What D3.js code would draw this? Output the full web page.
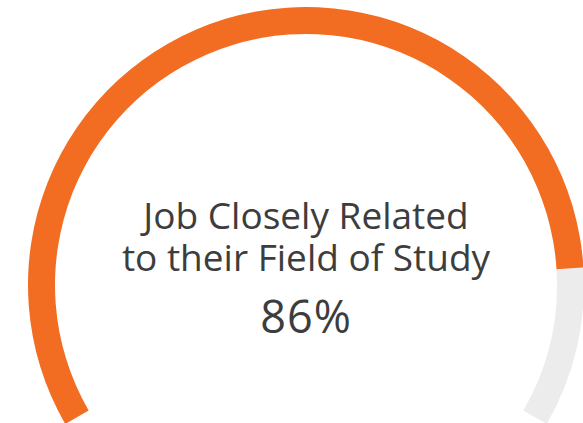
<!DOCTYPE html>
<html>
<head>
<meta charset="utf-8">
<script src="https://cdn.jsdelivr.net/npm/d3@7"></script>
<style>
html,body{margin:0;padding:0;background:#fff;}
svg{display:block;}
</style>
</head>
<body>
<svg id="chart" width="583" height="423"></svg>
<script>
const labelLines = ["Job Closely Related", "to their Field of Study"];
const gaugeValue = [86];
const gaugeMax = [100];

const svg = d3.select("#chart");
const cx = 306, cy = 285;
const outerR = 278, innerR = 251;

const angle = d3.scaleLinear().domain([0, gaugeMax[0]]).range([-2 * Math.PI / 3, 2 * Math.PI / 3]);
const arc = d3.arc().innerRadius(innerR).outerRadius(outerR);

const g = svg.append("g").attr("transform", `translate(${cx},${cy})`);

g.append("path")
  .attr("d", arc({startAngle: angle(gaugeValue[0]), endAngle: angle(gaugeMax[0])}))
  .attr("fill", "#ececec");

g.append("path")
  .attr("d", arc({startAngle: angle(0), endAngle: angle(gaugeValue[0])}))
  .attr("fill", "#f26d21");

const font = "'Open Sans', 'Noto Sans', sans-serif";
g.selectAll("text.lbl")
  .data(labelLines)
  .join("text")
  .attr("class", "lbl")
  .attr("x", 0)
  .attr("y", (d, i) => -56 + i * 42)
  .attr("text-anchor", "middle")
  .attr("font-family", font)
  .attr("font-size", 37)
  .attr("fill", "#3d3d3d")
  .text(d => d);

g.append("text")
  .attr("x", 0)
  .attr("y", 48)
  .attr("text-anchor", "middle")
  .attr("font-family", font)
  .attr("font-size", 45)
  .attr("letter-spacing", 1)
  .attr("fill", "#3d3d3d")
  .text(gaugeValue[0] + "%");
</script>
</body>
</html>
